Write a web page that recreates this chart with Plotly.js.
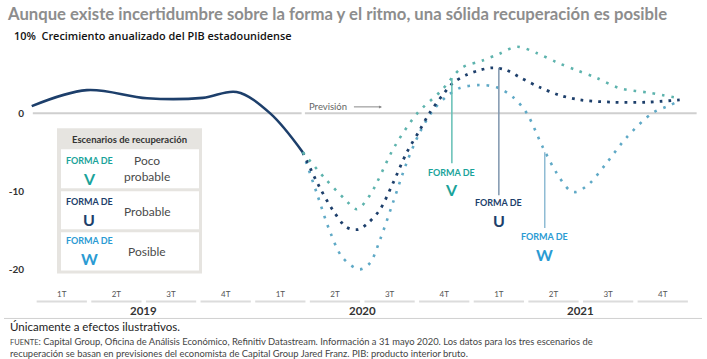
<!DOCTYPE html>
<html>
<head>
<meta charset="utf-8">
<script src="https://cdn.plot.ly/plotly-3.0.1.min.js"></script>
<style>html,body{margin:0;padding:0;background:#fff;}#chart{width:707px;height:359px;}</style>
</head>
<body>
<div id="chart"></div>
<script>
// Quarter index: 0 = 1T 2019 ... 11 = 4T 2021
const quarterTicks = [0,1,2,3,4,5,6,7,8,9,10,11];
const quarterLabels = ["1T","2T","3T","4T","1T","2T","3T","4T","1T","2T","3T","4T"];
const years = ["2019","2020","2021"];
const yearCenters = [1.5, 5.5, 9.5];

// Historical GDP growth (solid)
const histX = [-0.55,0.46,1.56,2.58,3.2,3.81,4.41];
const histY = [0.9,2.95,1.9,1.95,2.7,0,-5];

// V-shape scenario
const vX = [4.41,4.81,5.18,5.40,5.64,6.09,6.51,6.95,7.32,7.69,8.01,8.33,8.69,9.06,9.42,9.79,10.21,10.76,11.31];
const vY = [-5,-8.3,-11,-12.3,-10.5,-4.3,0,2.9,5.8,6.7,7.6,8.5,7.7,6.5,5.5,4.5,3.2,2.6,1.9];

// U-shape scenario
const uX = [4.41,4.72,4.96,5.21,5.42,5.60,5.82,6.06,6.31,6.55,6.73,6.97,7.15,7.41,7.65,7.89,8.14,8.38,8.75,9.11,9.48,10.08,10.70,11.31];
const uY = [-5,-9.5,-12.4,-14.6,-14.9,-14.1,-12.4,-9.0,-5.1,-2.2,0,2.3,3.8,4.9,5.5,5.8,5.5,4.6,3.3,2.3,1.7,1.4,1.4,1.7];

// W-shape scenario
const wX = [4.41,4.67,4.90,5.14,5.45,5.64,5.82,6.06,6.31,6.55,6.79,7.04,7.28,7.65,7.96,8.25,8.51,8.80,9.06,9.30,9.42,9.66,9.97,10.34,10.81,11.13,11.31];
const wY = [-5,-10.3,-15,-18.5,-20,-19.2,-16.3,-11.5,-6.4,-2.5,0.3,2.1,3.2,3.6,3.3,2.1,0,-4.3,-7.7,-9.9,-10.1,-9.0,-6.4,-3.1,0,1.0,1.6];

const yTicks = [0,-10,-20];
const yTickLabels = ["0","-10","-20"];

const colNavy = "#1d3f6b", colTeal = "#1aa39a", colBlue = "#2b9bd3";

// layout geometry helpers (pixel -> paper)
const W = 707, H = 359, ML = 29, MR = 6, MT = 35, MB = 74.4;
const PW = W - ML - MR, PH = H - MT - MB;
const px = p => (p - ML) / PW;
const py = p => 1 - (p - MT) / PH;

const FONT = "Lato, 'Open Sans', sans-serif";

const traces = [
  {x: histX, y: histY, mode: "lines", line: {color: colNavy, width: 2.6, shape: "spline", smoothing: 1}, hoverinfo: "skip"},
  {x: wX, y: wY, mode: "lines", line: {color: "#5fa9c6", width: 2.6, shape: "spline", smoothing: 0.9, dash: "2.6px,7px"}, hoverinfo: "skip"},
  {x: uX, y: uY, mode: "lines", line: {color: colNavy, width: 2.8, shape: "spline", smoothing: 0.9, dash: "2.8px,6px"}, hoverinfo: "skip"},
  {x: vX, y: vY, mode: "lines", line: {color: "#5db3ad", width: 2.6, shape: "spline", smoothing: 0.9, dash: "2.6px,7px"}, hoverinfo: "skip"}
];

const shapes = [];
const annotations = [];
function note(xp, yp, text, font, xanchor) {
  annotations.push({x: px(xp), y: py(yp), xref: "paper", yref: "paper", text: text, showarrow: false,
    xanchor: xanchor || "center", yanchor: "middle", font: font});
}

// zero line (with small gap at forecast start)
shapes.push({type: "line", xref: "x", yref: "y", x0: -0.53, x1: 4.39, y0: 0, y1: 0, line: {color: "#cfcfcf", width: 2}, layer: "below"});
shapes.push({type: "line", xref: "x", yref: "y", x0: 4.45, x1: 11.62, y0: 0, y1: 0, line: {color: "#cfcfcf", width: 2}, layer: "below"});

// quarter separators
quarterTicks.forEach(q => {
  shapes.push({type: "line", xref: "x", yref: "paper", x0: q - 0.46, x1: q + 0.46, y0: py(301), y1: py(301), line: {color: "#dcdcdc", width: 2}});
});
// bottom rule
shapes.push({type: "line", xref: "paper", yref: "paper", x0: px(4), x1: px(702), y0: py(318), y1: py(318), line: {color: "#d0d0d0", width: 1}});

years.forEach((yl, i) => {
  annotations.push({x: yearCenters[i], xref: "x", y: py(310), yref: "paper", text: yl, showarrow: false,
    font: {family: FONT, size: 11.5, color: "#333", weight: "bold"}, xanchor: "center", yanchor: "middle"});
});

// Pointer lines and scenario labels
const pointers = [
  {q: 7.14, top: 4.5, bot: -6.4, lc: "#63bfb5", c: colTeal, letter: "V", y1: -7.6, y2: -9.8},
  {q: 8.0, top: 5.8, bot: -10.5, lc: "#7f95ad", c: colNavy, letter: "U", y1: -11.4, y2: -13.7},
  {q: 8.84, top: -5.0, bot: -14.7, lc: "#8fbcd4", c: colBlue, letter: "W", y1: -15.8, y2: -18.1}
];
pointers.forEach(p => {
  shapes.push({type: "line", xref: "x", yref: "y", x0: p.q, x1: p.q, y0: p.top, y1: p.bot, line: {color: p.lc, width: 1.5}});
  annotations.push({x: p.q, y: p.y1, xref: "x", yref: "y", text: "FORMA DE", showarrow: false, xanchor: "center", yanchor: "middle",
    font: {family: FONT, size: 9, color: p.c, weight: "bold"}});
  annotations.push({x: p.q, y: p.y2, xref: "x", yref: "y", text: p.letter, showarrow: false, xanchor: "center", yanchor: "middle",
    font: {family: FONT, size: 16, color: p.c, weight: "bold"}});
});

// Previsión label + arrow
annotations.push({x: 4.48, y: 0.8, xref: "x", yref: "y", text: "Previsión", showarrow: false, xanchor: "left", yanchor: "middle",
  font: {family: FONT, size: 9.5, color: "#666"}});
annotations.push({x: 5.86, y: 0.8, xref: "x", yref: "y", ax: 5.32, ay: 0.8, axref: "x", ayref: "y", text: "",
  showarrow: true, arrowhead: 2, arrowsize: 0.6, arrowwidth: 1, arrowcolor: "#888"});

// Legend box
shapes.push({type: "rect", xref: "paper", yref: "paper", x0: px(57), x1: px(202), y0: py(273), y1: py(128),
  fillcolor: "#e6e4e0", line: {width: 0}});
[[149,188],[191,229],[232,270]].forEach(r => {
  shapes.push({type: "rect", xref: "paper", yref: "paper", x0: px(61), x1: px(199), y0: py(r[1]), y1: py(r[0]),
    fillcolor: "#ffffff", line: {width: 0}});
});
note(129.5, 139, "Escenarios de recuperación", {family: FONT, size: 9.5, color: "#333", weight: "bold"});
const legRows = [
  {c: colTeal, letter: "V", y1: 160, y2: 178, txt: "Poco<br>probable", ty: 168},
  {c: colNavy, letter: "U", y1: 201, y2: 219, txt: "Probable", ty: 211},
  {c: colBlue, letter: "W", y1: 240, y2: 258, txt: "Posible", ty: 251}
];
legRows.forEach(r => {
  note(89, r.y1, "FORMA DE", {family: FONT, size: 9, color: r.c, weight: "bold"});
  note(89, r.y2, r.letter, {family: FONT, size: 16, color: r.c, weight: "bold"});
  note(147, r.ty, r.txt, {family: FONT, size: 12, color: "#4a4a4a"});
});

// Subtitle
note(12, 35, "10%  Crecimiento anualizado del PIB estadounidense",
  {family: "'Open Sans', sans-serif", size: 10.9, color: "#111", weight: 600}, "left");

// Footer
note(8, 326, "Únicamente a efectos ilustrativos.", {family: FONT, size: 11.5, color: "#222"}, "left");
note(8, 341, "<span style='font-size:7.5px'>FUENTE</span>: Capital Group, Oficina de Análisis Económico, Refinitiv Datastream. Información a 31 mayo 2020. Los datos para los tres escenarios de",
  {family: FONT, size: 9.4, color: "#444"}, "left");
note(8, 353, "recuperación se basan en previsiones del economista de Capital Group Jared Franz. PIB: producto interior bruto.",
  {family: FONT, size: 9.4, color: "#444"}, "left");

const layout = {
  width: W, height: H,
  margin: {l: ML, r: MR, t: MT, b: MB, pad: 0},
  paper_bgcolor: "#fff", plot_bgcolor: "#fff",
  showlegend: false,
  title: {text: "Aunque existe incertidumbre sobre la forma y el ritmo, una sólida recuperación es posible",
    x: 8 / W, xanchor: "left", xref: "container", y: 1 - 14 / H, yanchor: "middle", yref: "container",
    font: {family: FONT, size: 16.7, color: "#8d8d8d", weight: "bold"}},
  xaxis: {range: [-0.6, 11.7], showgrid: false, zeroline: false, showline: false, ticks: "",
    tickvals: quarterTicks, ticktext: quarterLabels, ticklabelstandoff: 3,
    tickfont: {family: FONT, size: 8, color: "#555"}, fixedrange: true},
  yaxis: {range: [-22, 10], showgrid: false, zeroline: false, showline: false, ticks: "",
    tickvals: yTicks, ticktext: yTickLabels, ticklabelstandoff: 4,
    tickfont: {family: FONT, size: 10, color: "#333", weight: "bold"}, fixedrange: true},
  shapes: shapes,
  annotations: annotations
};

Plotly.newPlot("chart", traces, layout, {displayModeBar: false, staticPlot: true});
</script>
</body>
</html>
